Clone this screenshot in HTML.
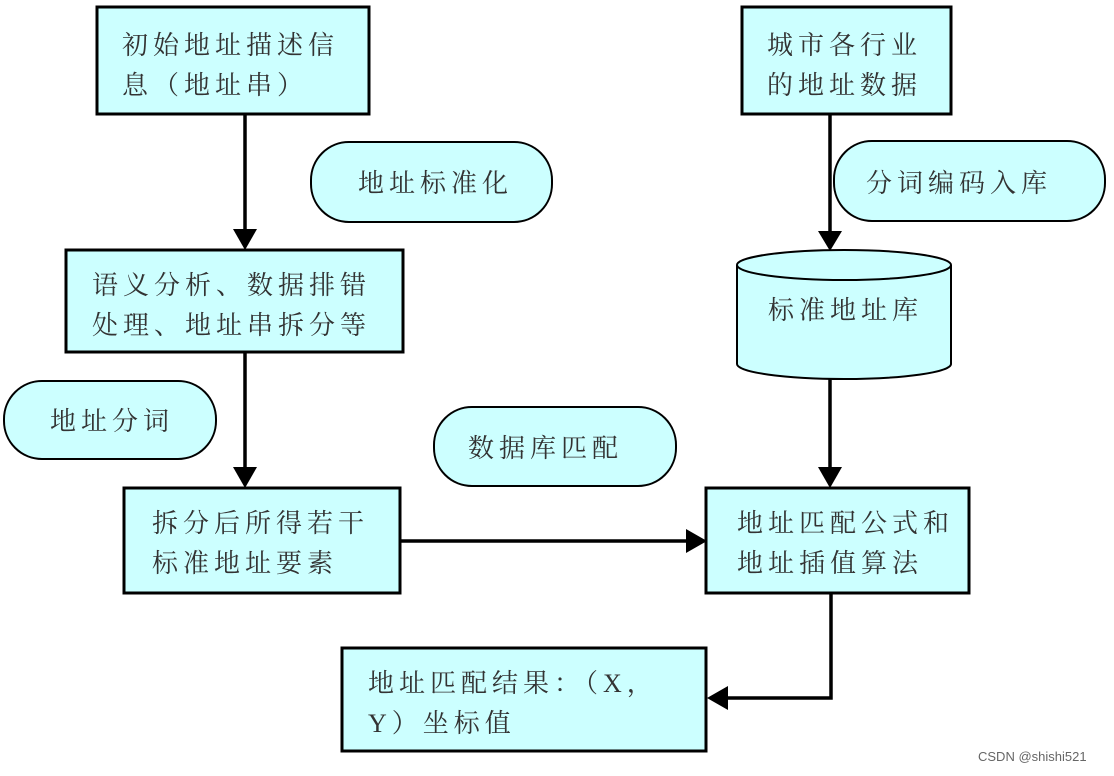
<!DOCTYPE html>
<html><head><meta charset="utf-8"><style>
html,body{margin:0;padding:0;background:#fff}
svg text{font-family:"Liberation Serif","Noto Serif CJK SC","Noto Sans CJK SC",serif;font-size:26px;fill:#333;letter-spacing:5px}
</style></head><body>
<svg width="1114" height="771" viewBox="0 0 1114 771" xmlns="http://www.w3.org/2000/svg">
<defs><marker id="a" markerWidth="10" markerHeight="10" refX="9" refY="5" orient="auto" markerUnits="userSpaceOnUse"><path d="M0,0 L10,5 L0,10 z" fill="#000" transform="scale(1)"/></marker></defs>
<g stroke="#000" stroke-width="3.5" fill="none">
<line x1="245" y1="115" x2="245" y2="230"/>
<line x1="245" y1="353" x2="245" y2="468"/>
<line x1="830" y1="115" x2="830" y2="232"/>
<line x1="830" y1="379" x2="830" y2="468"/>
<line x1="401" y1="541" x2="688" y2="541"/>
<polyline points="831,594 831,698 726,698"/>
</g>
<g fill="#000">
<polygon points="233,229 257,229 245,250"/>
<polygon points="233,467 257,467 245,488"/>
<polygon points="818,231 842,231 830,251"/>
<polygon points="818,467 842,467 830,488"/>
<polygon points="686,529 686,553 707,541"/>
<polygon points="728,686 728,710 707,698"/>
</g>
<g fill="#ccffff" stroke="#000" stroke-width="3">
<rect x="97" y="7" width="272" height="107"/>
<rect x="742" y="7" width="209" height="107"/>
<rect x="66" y="250" width="337" height="102"/>
<rect x="124" y="488" width="276" height="105"/>
<rect x="706" y="488" width="263" height="105"/>
<rect x="342" y="648" width="364" height="103"/>
</g>
<g fill="#ccffff" stroke="#000" stroke-width="2">
<rect x="311" y="142" width="241" height="80" rx="38"/>
<rect x="834" y="141" width="271" height="80" rx="38"/>
<rect x="4" y="381" width="212" height="78" rx="38"/>
<rect x="434" y="407" width="242" height="79" rx="38"/>
<path d="M737,265 L737,364 A107,15 0 0 0 951,364 L951,265" />
<ellipse cx="844" cy="265" rx="107" ry="15"/>
</g>
<text x="122" y="54">初始地址描述信</text>
<text x="122" y="94">息（地址串）</text>
<text x="767" y="54">城市各行业</text>
<text x="767" y="94">的地址数据</text>
<text x="358" y="192">地址标准化</text>
<text x="866" y="192">分词编码入库</text>
<text x="92" y="294">语义分析、数据排错</text>
<text x="92" y="334">处理、地址串拆分等</text>
<text x="768" y="319">标准地址库</text>
<text x="50" y="430">地址分词</text>
<text x="468" y="457">数据库匹配</text>
<text x="152" y="532">拆分后所得若干</text>
<text x="152" y="572">标准地址要素</text>
<text x="737" y="532">地址匹配公式和</text>
<text x="737" y="572">地址插值算法</text>
<text x="368" y="692">地址匹配结果：（X，</text>
<text x="368" y="732">Y）坐标值</text>
<text x="978" y="761" style="font-family:'Liberation Sans',sans-serif;font-size:13px;letter-spacing:0;fill:#666">CSDN @shishi521</text>
</svg>
</body></html>
